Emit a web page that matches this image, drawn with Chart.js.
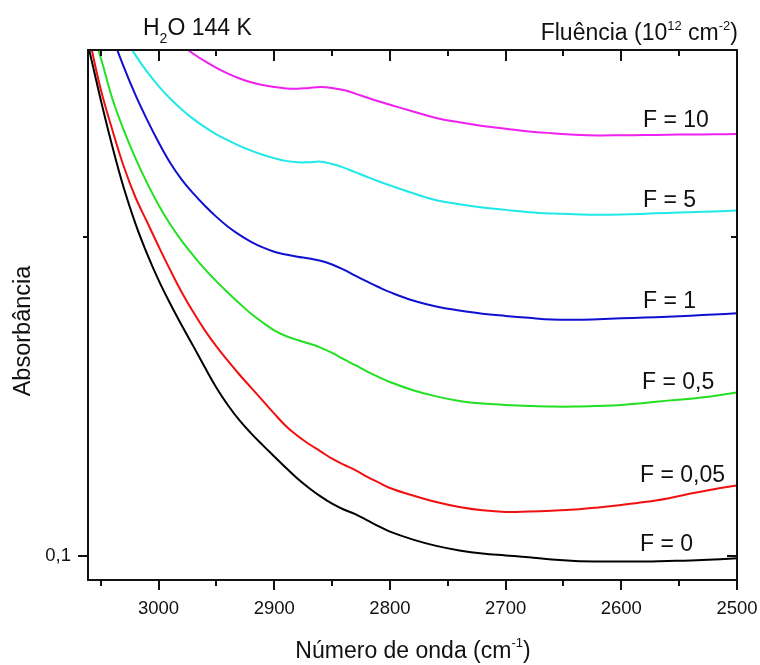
<!DOCTYPE html>
<html>
<head>
<meta charset="utf-8">
<script src="https://cdn.jsdelivr.net/npm/chart.js@4.4.0/dist/chart.umd.min.js"></script>
<style>
  html, body { margin: 0; padding: 0; background: #fff; }
</style>
</head>
<body>
<canvas id="chart1" width="760" height="665"></canvas>
<script>
// número de onda (cm-1)
const numeroDeOnda = [3060, 3050, 3040, 3030, 3020, 3010, 3000, 2990, 2980, 2970, 2960, 2950, 2940, 2930,
  2920, 2910, 2900, 2890, 2880, 2870, 2860, 2850, 2840, 2830, 2820, 2810, 2800, 2780, 2760, 2740,
  2720, 2700, 2680, 2660, 2640, 2620, 2600, 2580, 2560, 2540, 2520, 2500];

// absorbância para cada fluência
const f0 = [0.3002, 0.2693, 0.2434, 0.2222, 0.2058, 0.1928, 0.1820, 0.1730, 0.1650, 0.1577, 0.1506, 0.1441, 0.1387, 0.1342,
  0.1305, 0.1272, 0.1241, 0.1211, 0.1183, 0.1159, 0.1138, 0.1120, 0.1106, 0.1095, 0.1081, 0.1067, 0.1054, 0.1036, 0.1022, 0.1012,
  0.1005, 0.1001, 0.0997, 0.0992, 0.0989, 0.0988, 0.0988, 0.0988, 0.0989, 0.0990, 0.0992, 0.0995];
const f005 = [0.3081, 0.2755, 0.2523, 0.2328, 0.2179, 0.2066, 0.1959, 0.1861, 0.1773, 0.1698, 0.1632, 0.1576, 0.1527, 0.1482,
  0.1441, 0.1401, 0.1362, 0.1326, 0.1298, 0.1275, 0.1255, 0.1235, 0.1219, 0.1205, 0.1188, 0.1173, 0.1159, 0.1140, 0.1124, 0.1112,
  0.1104, 0.1100, 0.1101, 0.1103, 0.1106, 0.1111, 0.1117, 0.1124, 0.1133, 0.1145, 0.1156, 0.1165];
const f05 = [0.3187, 0.2950, 0.2700, 0.2520, 0.2372, 0.2248, 0.2143, 0.2055, 0.1982, 0.1920, 0.1864, 0.1815, 0.1771, 0.1730,
  0.1692, 0.1660, 0.1632, 0.1612, 0.1598, 0.1586, 0.1572, 0.1554, 0.1533, 0.1513, 0.1493, 0.1475, 0.1459, 0.1433, 0.1414, 0.1400,
  0.1392, 0.1388, 0.1385, 0.1383, 0.1383, 0.1385, 0.1388, 0.1394, 0.1401, 0.1407, 0.1415, 0.1426];
const f1 = [0.3614, 0.3328, 0.3090, 0.2890, 0.2721, 0.2579, 0.2455, 0.2348, 0.2264, 0.2197, 0.2139, 0.2088, 0.2044, 0.2008,
  0.1978, 0.1954, 0.1936, 0.1924, 0.1915, 0.1908, 0.1898, 0.1883, 0.1862, 0.1838, 0.1815, 0.1793, 0.1773, 0.1741, 0.1719, 0.1704,
  0.1692, 0.1684, 0.1677, 0.1671, 0.1670, 0.1672, 0.1675, 0.1678, 0.1681, 0.1685, 0.1689, 0.1694];
const f5 = [0.3618, 0.3420, 0.3246, 0.3094, 0.2967, 0.2862, 0.2774, 0.2700, 0.2637, 0.2583, 0.2537, 0.2498, 0.2465, 0.2436,
  0.2411, 0.2390, 0.2372, 0.2358, 0.2351, 0.2351, 0.2354, 0.2342, 0.2324, 0.2301, 0.2278, 0.2256, 0.2236, 0.2198, 0.2165, 0.2146,
  0.2131, 0.2120, 0.2109, 0.2103, 0.2100, 0.2098, 0.2099, 0.2102, 0.2106, 0.2109, 0.2113, 0.2117];
const f10 = [0.4110, 0.3890, 0.3700, 0.3535, 0.3395, 0.3278, 0.3180, 0.3100, 0.3032, 0.2976, 0.2928, 0.2886, 0.2850, 0.2820,
  0.2797, 0.2780, 0.2768, 0.2760, 0.2758, 0.2763, 0.2768, 0.2763, 0.2750, 0.2729, 0.2706, 0.2684, 0.2664, 0.2625, 0.2588, 0.2564,
  0.2544, 0.2529, 0.2514, 0.2504, 0.2496, 0.2492, 0.2493, 0.2494, 0.2496, 0.2497, 0.2498, 0.2500];

const rotulos = ["F = 0", "F = 0,05", "F = 0,5", "F = 1", "F = 5", "F = 10"];
const xTicks = [3000, 2900, 2800, 2700, 2600, 2500];
const xTicksMenores = [3050, 2950, 2850, 2750, 2650, 2550];
const yTicks = [0.1];
const yTicksMenores = [0.2];

const series = [f0, f005, f05, f1, f5, f10];
const cores = ["#000000", "#f01010", "#22e022", "#1010d0", "#20e8e8", "#f020f0"];
// posição (px) de cada rótulo F = ...
const posRotulos = [[640, 551], [640, 482], [642, 389], [643, 308], [643, 207], [643, 127]];

const FONTE = 'Arial, "Liberation Sans", sans-serif';

function pontos(ys) {
  return numeroDeOnda.map((x, i) => ({ x: x, y: ys[i] }));
}

// texto com sub/sobrescrito: partes = [texto, tamanho, deslocamento vertical]
function textoRico(ctx, partes, x, y, alinhar) {
  let largura = 0;
  partes.forEach(p => {
    ctx.font = p[1] + "px " + FONTE;
    largura += ctx.measureText(p[0]).width;
  });
  let cx = x;
  if (alinhar === "right") cx = x - largura;
  if (alinhar === "center") cx = x - largura / 2;
  ctx.textAlign = "left";
  ctx.textBaseline = "alphabetic";
  partes.forEach(p => {
    ctx.font = p[1] + "px " + FONTE;
    ctx.fillText(p[0], cx, y + (p[2] || 0));
    cx += ctx.measureText(p[0]).width;
  });
}

const moldura = {
  id: "moldura",
  afterDraw(chart) {
    const ctx = chart.ctx;
    const a = chart.chartArea;
    const sx = chart.scales.x;
    const sy = chart.scales.y;
    ctx.save();
    ctx.strokeStyle = "#111";
    ctx.fillStyle = "#111";
    ctx.lineWidth = 2;
    ctx.strokeRect(a.left, a.top, a.right - a.left, a.bottom - a.top);

    ctx.beginPath();
    xTicks.forEach(v => {
      const px = Math.round(sx.getPixelForValue(v));
      ctx.moveTo(px, a.bottom); ctx.lineTo(px, a.bottom + 10);
      ctx.moveTo(px, a.top); ctx.lineTo(px, a.top + 11);
    });
    xTicksMenores.forEach(v => {
      const px = Math.round(sx.getPixelForValue(v));
      ctx.moveTo(px, a.bottom); ctx.lineTo(px, a.bottom + 6);
      ctx.moveTo(px, a.top); ctx.lineTo(px, a.top + 6);
    });
    yTicks.forEach(v => {
      const py = Math.round(sy.getPixelForValue(v));
      ctx.moveTo(a.left - 10, py); ctx.lineTo(a.left, py);
      ctx.moveTo(a.right - 10, py); ctx.lineTo(a.right, py);
    });
    yTicksMenores.forEach(v => {
      const py = Math.round(sy.getPixelForValue(v));
      ctx.moveTo(a.left - 5, py); ctx.lineTo(a.left, py);
      ctx.moveTo(a.right - 6, py); ctx.lineTo(a.right, py);
    });
    ctx.stroke();

    textoRico(ctx, [["H", 23], ["2", 14, 8], ["O 144 K", 23]], 143, 35, "left");
    textoRico(ctx, [["Fluência (10", 23], ["12", 13, -10], [" cm", 23], ["-2", 13, -10], [")", 23]], 738, 40, "right");
    textoRico(ctx, [["Número de onda (cm", 23], ["-1", 13, -11], [")", 23]], 413, 658, "center");

    rotulos.forEach((t, i) => {
      textoRico(ctx, [[t, 23]], posRotulos[i][0], posRotulos[i][1], "left");
    });

    ctx.translate(30, 331);
    ctx.rotate(-Math.PI / 2);
    textoRico(ctx, [["Absorbância", 23.5]], 0, 0, "center");
    ctx.restore();
  }
};

const ctx1 = document.getElementById("chart1");

var chart1 = new Chart(ctx1, {
  type: "line",
  data: {
    datasets: series.map((s, i) => ({
      label: rotulos[i],
      data: pontos(s),
      borderColor: cores[i],
      borderWidth: 2,
      pointRadius: 0,
      fill: false,
      tension: 0.4,
    })),
  },
  options: {
    responsive: false,
    animation: false,
    devicePixelRatio: 1,
    layout: { padding: { top: 50, right: 23, left: 0, bottom: 0 } },
    plugins: { legend: { display: false }, tooltip: { enabled: false } },
    scales: {
      x: {
        type: "linear",
        reverse: true,
        min: 2500,
        max: 3061,
        grid: { display: false, drawTicks: false },
        border: { display: false },
        afterBuildTicks: s => { s.ticks = xTicks.map(v => ({ value: v })); },
        afterFit: s => { s.height = 85; s.paddingLeft = 0; s.paddingRight = 0; },
        ticks: {
          autoSkip: false,
          maxRotation: 0,
          padding: 18,
          color: "#111",
          font: { family: FONTE, size: 18.5 },
          callback: v => String(v),
        },
      },
      y: {
        type: "logarithmic",
        min: 0.0949,
        max: 0.3,
        grid: { display: false, drawTicks: false },
        border: { display: false },
        afterBuildTicks: s => { s.ticks = yTicks.map(v => ({ value: v })); },
        afterFit: s => { s.width = 88; s.paddingTop = 0; s.paddingBottom = 0; },
        ticks: {
          autoSkip: false,
          padding: 17,
          color: "#111",
          font: { family: FONTE, size: 18.5 },
          callback: v => String(v).replace(".", ","),
        },
      },
    },
  },
  plugins: [moldura],
});
</script>
</body>
</html>
